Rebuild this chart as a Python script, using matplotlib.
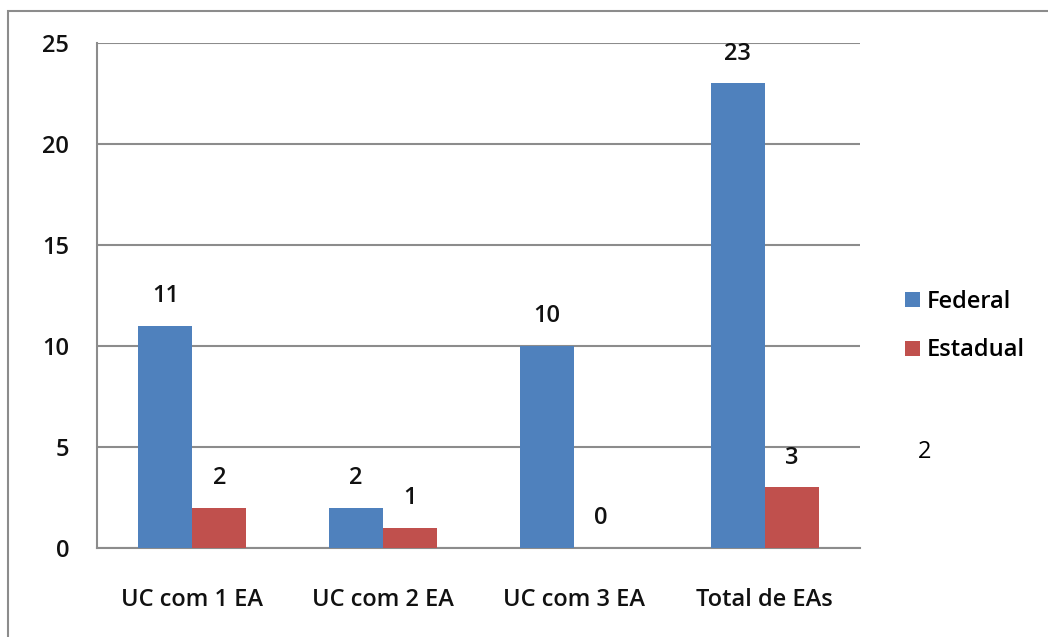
import matplotlib
matplotlib.use("Agg")
import matplotlib.pyplot as plt
from matplotlib.patches import Rectangle
import numpy as np

plt.rcParams['font.family'] = ['Open Sans', 'DejaVu Sans']

categorias = ["UC com 1 EA", "UC com 2 EA", "UC com 3 EA", "Total de EAs"]
federal = [11, 2, 10, 23]
estadual = [2, 1, 0, 3]
series = ["Federal", "Estadual"]
cores = ["#4F81BD", "#C0504D"]
yticks = [0, 5, 10, 15, 20, 25]

fs = 17
peso = "semibold"

fig = plt.figure(figsize=(10.48, 6.37), dpi=100)
ax = fig.add_axes([0.0926, 0.1397, 0.728, 0.7928])

# moldura externa do grafico
fig.patches.append(Rectangle((8 / 1048, -0.05), 1.1, 0.05 + (637 - 11) / 637,
                             transform=fig.transFigure, fill=False,
                             edgecolor="#8c8c8c", linewidth=1.5, clip_on=False))

x = np.arange(len(categorias))
w = 0.283
b1 = ax.bar(x - w / 2, federal, w, color=cores[0], label=series[0], zorder=3)
b2 = ax.bar(x + w / 2, estadual, w, color=cores[1], label=series[1], zorder=3)

for barras, vals in ((b1, federal), (b2, estadual)):
    for r, v in zip(barras, vals):
        ax.annotate(str(v), (r.get_x() + r.get_width() / 2, v),
                    xytext=(0, 21.5), textcoords="offset points",
                    ha="center", va="center", fontsize=fs, fontweight=peso,
                    color="#111111")

ax.set_xlim(-0.5, len(categorias) - 0.5)
ax.set_ylim(0, 25)
ax.set_yticks(yticks)
ax.set_xticks(x)
ax.set_xticklabels(categorias, fontweight=peso)
ax.set_yticklabels([str(t) for t in yticks], fontweight=peso)
ax.tick_params(axis="x", length=0, pad=29, labelsize=fs, labelcolor="#111111")
ax.tick_params(axis="y", length=0, pad=20, labelsize=fs, labelcolor="#111111")
ax.grid(axis="y", color="#8c8c8c", linewidth=1.5, zorder=0)

for s in ["top", "right"]:
    ax.spines[s].set_visible(False)
for s in ["left", "bottom"]:
    ax.spines[s].set_color("#8c8c8c")
    ax.spines[s].set_linewidth(1.5)

leg = fig.legend(handles=[b1, b2], labels=series, loc="center left",
                 bbox_to_anchor=(0.855, 1 - 326 / 637), frameon=False,
                 prop={"size": fs, "weight": peso},
                 handlelength=0.6, handleheight=0.6,
                 handletextpad=0.3, labelspacing=1.05, borderaxespad=0)

fig.text(925 / 1048, 1 - 452 / 637, "2", ha="center", va="center",
         fontsize=fs, color="#000000")

fig.savefig("out.png", dpi=100)
